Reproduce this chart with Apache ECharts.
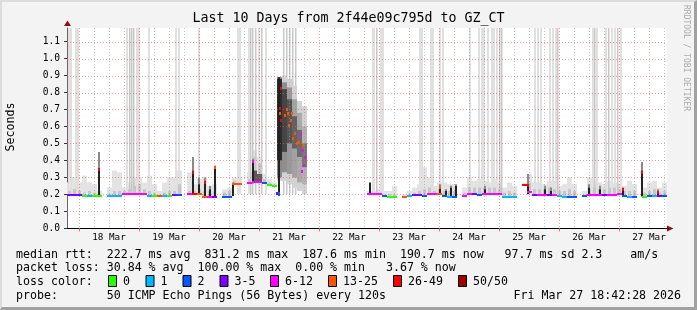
<!DOCTYPE html>
<html><head><meta charset="utf-8">
<script src="https://cdn.jsdelivr.net/npm/echarts@6/dist/echarts.min.js"></script>
<style>
html,body{margin:0;padding:0;background:#f3f3f3;overflow:hidden;}
#c{position:absolute;left:0;top:0;width:697px;height:310px;}
#frame{position:absolute;left:0;top:0;width:697px;height:310px;box-sizing:border-box;pointer-events:none;
 border-top:2px solid #dcdcdc;border-left:2px solid #dcdcdc;border-right:3px solid #a1a1a1;border-bottom:3px solid #a1a1a1;}
</style></head><body>
<div id="c"></div><div id="frame"></div>
<script>
// ---------- time axis (hours since Mar 17 00:00) ----------
const startHour = 19.2;
const endHour = 259.2;
const slotHours = 2;
const yMax = 1.18;
const dayLabels = ['18 Mar','19 Mar','20 Mar','21 Mar','22 Mar','23 Mar','24 Mar','25 Mar','26 Mar','27 Mar'];
const dayNoonHours = [36,60,84,108,132,156,180,204,228,252];
const midnightHours = [24,48,72,96,120,144,168,192,216,240];
const yTickValues = [0,0.1,0.2,0.3,0.4,0.5,0.6,0.7,0.8,0.9,1.0,1.1];

// ---------- loss legend ----------
const lossNames = ['0','1','2','3-5','6-12','13-25','26-49','50/50'];
const lossColors = ['#26ff00','#00b8ff','#0059ff','#7e00ff','#ff00ff','#ff5500','#ff0000','#a10000'];

// ---------- per 2-hour slot (120 slots) ----------
const median = [
 0.198,0.198,0.198,0.188,0.188,0.188,0.188,null,0.188,0.188,
 0.188,0.2,0.2,0.2,0.2,0.2,0.19,0.188,0.188,0.188,
 0.188,0.197,0.195,null,0.2,0.2,0.2,0.186,0.186,0.186,
 null,0.187,0.187,0.26,0.26,null,0.265,0.275,0.27,0.265,
 0.258,0.25,null,null,null,null,null,null,null,null,
 null,null,null,null,null,null,null,null,null,null,
 0.2,0.2,0.2,0.192,0.187,0.187,null,0.187,0.19,0.198,
 0.196,0.19,0.2,0.2,0.205,0.192,0.187,0.187,null,0.19,
 0.2,0.2,0.198,0.2,0.2,0.2,0.2,0.187,0.187,0.187,
 null,0.255,0.215,0.195,0.195,0.195,0.195,0.197,0.19,0.187,
 0.187,0.187,null,0.19,0.195,0.197,0.197,0.195,0.197,0.197,
 0.2,0.19,0.187,0.187,null,0.187,0.19,0.19,0.19,0.19
];
const lossClass = [
 3,3,3,0,1,0,0,0,1,1,
 1,4,4,4,4,4,1,0,5,1,
 0,3,2,0,4,6,5,5,4,3,
 0,2,2,5,5,0,4,4,4,2,
 0,0,0,0,0,0,0,0,0,0,
 0,0,0,0,0,0,0,0,0,0,
 4,4,4,2,0,0,0,5,1,3,
 3,2,4,4,5,2,1,2,0,4,
 4,3,2,4,4,4,4,1,1,1,
 0,6,4,3,4,4,3,4,1,1,
 2,2,0,2,4,4,4,3,4,4,
 4,2,1,2,0,0,2,1,3,2
];
const smokeTop = [
 0.27,0.30,0.27,0.31,0.27,0.26,0.22,null,0.24,0.34,
 0.33,0.24,0.27,0.30,0.30,0.27,0.31,0.26,0.22,0.27,
 0.30,0.30,0.34,null,0.33,0.26,0.29,0.30,0.25,0.26,
 null,0.23,0.24,0.30,0.29,null,0.33,0.46,0.42,0.32,
 0.29,0.27,null,null,null,null,null,null,null,null,
 null,null,null,null,null,null,null,null,null,null,
 0.22,0.22,0.23,0.22,0.22,0.25,null,0.20,0.22,0.24,
 0.26,0.36,0.30,0.25,0.27,0.27,0.26,0.26,null,0.24,
 0.30,0.28,0.29,0.28,0.27,0.29,0.27,0.24,0.27,0.25,
 null,0.27,0.32,0.27,0.27,0.26,0.28,0.28,0.25,0.26,
 0.30,0.26,null,0.22,0.30,0.27,0.27,0.26,0.28,0.27,
 0.26,0.25,0.28,0.26,null,0.24,0.27,0.28,0.24,0.27
];
const smokeMidTop = [
 0.22,0.23,0.22,0.21,0.22,0.21,null,null,0.20,0.22,
 0.22,0.22,0.23,0.25,0.26,0.23,0.22,0.21,null,0.21,
 0.22,0.22,0.26,null,0.22,0.22,0.23,0.22,0.22,0.22,
 null,0.21,0.22,0.28,0.27,null,0.29,0.42,0.38,0.29,
 0.27,null,null,null,null,null,null,null,null,null,
 null,null,null,null,null,null,null,null,null,null,
 null,null,null,null,0.20,0.20,null,null,0.20,0.21,
 0.22,0.23,0.24,0.22,0.23,0.22,0.22,0.22,null,0.21,
 0.24,0.24,0.24,0.24,0.24,0.24,0.23,0.21,0.22,0.21,
 null,null,0.27,0.23,0.23,0.23,0.24,0.23,0.22,0.22,
 0.23,0.22,null,null,0.23,0.24,0.23,0.23,0.24,0.24,
 0.23,0.22,0.22,0.22,null,0.21,0.22,0.23,0.21,0.22
];

// ---------- heavy smoke (20/21 Mar) ----------
const blobHour   = [93.2,95.2,103.2,105.2,107.2,109.2,111.2,113.2];
const blobLightLo= [null,null,0.28,0.28,0.26,0.24,0.22,0.20];
const blobLightHi= [null,null,0.89,0.90,0.88,0.84,0.75,0.72];
const blobMidLo  = [null,null,0.30,0.33,0.32,0.30,0.27,0.26];
const blobMidHi  = [null,null,0.89,0.86,0.83,0.76,0.68,0.60];
const blobDarkLo = [0.275,0.27,0.40,0.45,0.50,0.47,0.42,0.36];
const blobDarkHi = [0.34,0.32,0.88,0.82,0.76,0.66,0.58,0.50];

// ---------- tall outlier streaks (hour, shade 0 light / 1 mid) ----------
const tallHour  = [20.0,20.8,22.8,23.6,43.2,44.4,45.2,46.0,47.2,48.0,52.0,62.8,64.0,72.0,87.6,88.4,
  92.0,92.8,93.6,94.8,96.0,97.2,98.8,106.0,107.2,108.4,109.6,110.8,141.4,142.0,142.9,144.8,145.6,
  160.4,161.2,164.6,165.4,168.4,169.6,180.2,183.8,185.2,186.0,187.6,189.0,190.0,191.0,192.4,193.2,
  206.4,207.6,208.6,212.4,213.6,214.6,215.6,229.4,230.4,231.2,234.8,236.0,237.2,238.4,239.6,240.8];
const tallShade = [0,0,0,0,0,1,1,1,0,0,0,0,0,0,0,0,
  0,1,1,1,0,1,0,1,1,1,1,1,0,0,1,0,0,
  0,0,0,0,0,0,0,0,0,0,0,0,0,0,1,1,
  0,0,0,0,0,0,1,0,1,0,0,1,0,0,1,0];
const tallBase = 0.2;

// ---------- narrow dark spikes ----------
const spikeHour  = [31.8,69.7,71.8,74.4,76.4,78.2,85.6,93.6,103.8,140.4,168.4,170.8,172.8,174.8,186.4,
  203.6,210.4,212.8,228.0,232.4,241.4,249.0,255.4];
const spikeLow   = [0.19,0.2,0.2,0.186,0.186,0.186,0.19,0.265,0.21,0.2,0.2,0.19,0.19,0.19,0.2,
  0.2,0.195,0.195,0.195,0.197,0.19,0.187,0.19];
const spikeHigh  = [0.355,0.34,0.26,0.28,0.23,0.365,0.26,0.40,0.89,0.27,0.25,0.22,0.24,0.25,0.23,
  0.26,0.23,0.22,0.24,0.23,0.235,0.34,0.22];
const spikeGray  = [0.45,0.42,0.30,0.30,0.25,0.37,0.27,0.41,0.89,0.27,0.26,0.23,0.25,0.26,0.25,
  0.32,0.25,0.24,0.26,0.25,0.24,0.39,0.23];
const spikeDot   = [6,6,-1,6,-1,5,-1,4,-1,-1,5,-1,-1,-1,-1,
  6,-1,-1,-1,-1,6,6,6];

// ---------- scattered median points in heavy smoke ----------
const dotHour  = [103.2,103.8,104.3,104.7,104.4,104.6,106.4,107.1,107.7,108.1,108.8,109.3,109.7,110.4,111.1,112.1,112.8,113.5,113.7,114.0,113.3,114.4];
const dotValue = [0.21,0.205,0.71,0.827,0.682,0.64,0.67,0.70,0.68,0.61,0.64,0.682,0.53,0.56,0.50,0.51,0.553,0.49,0.46,0.375,0.335,0.42];
const dotClass = [3,2,6,6,5,6,5,5,5,5,5,5,5,5,5,5,4,5,4,4,4,4];

// ---------- legend text ----------
const statLine1 = 'median rtt:  222.7 ms avg  831.2 ms max  187.6 ms min  190.7 ms now   97.7 ms sd 2.3    am/s';
const statLine2 = 'packet loss: 30.84 % avg  100.00 % max  0.00 % min   3.67 % now';
const probeLine = 'probe:       50 ICMP Echo Pings (56 Bytes) every 120s';
const dateText  = 'Fri Mar 27 18:42:28 2026';
const titleText = 'Last 10 Days from 2f44e09c795d to GZ_CT';

// ================= build =================
const MONO = '"DejaVu Sans Mono", monospace';
const chart = echarts.init(document.getElementById('c'), null, {renderer:'canvas', width:697, height:310});

function clipR(params, r) {
  const cs = params.coordSys;
  return echarts.graphic.clipRectByRect(r, {x:cs.x, y:cs.y, width:cs.width, height:cs.height});
}
function band(params, api, t0, t1, lo, hi, fill) {
  if (lo == null || hi == null || !(hi > lo)) return null;
  const a = api.coord([t0, hi]), b = api.coord([t1, lo]);
  const s = clipR(params, {x:a[0], y:a[1], width:b[0]-a[0], height:b[1]-a[1]});
  return s ? {type:'rect', shape:s, style:{fill}} : null;
}

const slotData = [];
for (let i = 0; i < median.length; i++) {
  if (median[i] == null) continue;
  slotData.push([startHour + i*slotHours, median[i], lossClass[i],
    smokeTop[i] == null ? median[i] : smokeTop[i],
    smokeMidTop[i] == null ? median[i] : smokeMidTop[i]]);
}
const blobData = blobHour.map((h,i)=>[h, blobLightLo[i], blobLightHi[i], blobMidLo[i], blobMidHi[i], blobDarkLo[i], blobDarkHi[i]]);
const tallData = tallHour.map((h,i)=>[h, tallShade[i]]);
const spikeData = spikeHour.map((h,i)=>[h, spikeLow[i], spikeHigh[i], spikeGray[i], spikeDot[i]]);
const dotData = dotHour.map((h,i)=>[h, dotValue[i], dotClass[i]]);

const vGrid = [];
for (let h = 24; h < endHour; h += 6) vGrid.push([h, (h % 24 === 0) ? 1 : 0]);
const hGrid = yTickValues.filter(v => v > 0).map(v => [startHour, v]);
const blobDarkColors = ['#5a5a5a','#5a5a5a','#2c2c2c','#454545','#555555','#626262','#6c6c6c','#777777'];
const blobMidColors  = ['#999','#999','#8a8a8a','#8f8f8f','#999999','#a2a2a2','#aaaaaa','#b2b2b2'];

const series = [
  { // light smoke
    type:'custom', z:2, silent:true, data: slotData, encode:{x:0,y:1},
    renderItem:(params, api)=>{
      const t = api.value(0);
      const el = band(params, api, t, t+slotHours, api.value(1), api.value(3), '#e3e3e3');
      return el || {type:'group', children:[]};
    }
  },
  { // tall streaks
    type:'custom', z:2, silent:true, data: tallData, encode:{x:0},
    renderItem:(params, api)=>{
      const h = api.value(0);
      const a = api.coord([h, yMax]), b = api.coord([h, tallBase]);
      const w = api.value(1) ? 1.5 : 2;
      return {type:'rect', shape:{x:Math.round(a[0]-w/2), y:a[1], width:w, height:b[1]-a[1]},
        style:{fill: api.value(1) ? '#c8c8c8' : '#e0e0e0'}};
    }
  },
  { // mid smoke
    type:'custom', z:2, silent:true, data: slotData, encode:{x:0,y:1},
    renderItem:(params, api)=>{
      const t = api.value(0);
      const el = band(params, api, t+0.4, t+slotHours-0.4, api.value(1), api.value(4), '#c6c6c6');
      return el || {type:'group', children:[]};
    }
  },
  { // heavy smoke
    type:'custom', z:2, silent:true, data: blobData, encode:{x:0},
    renderItem:(params, api)=>{
      const t = api.value(0), ch = [], d = blobData[params.dataIndex], k = params.dataIndex;
      let e;
      if ((e = band(params, api, t, t+slotHours, d[1], d[2], '#d2d2d2'))) ch.push(e);
      if ((e = band(params, api, t, t+slotHours, d[3], d[4], blobMidColors[k]))) ch.push(e);
      if ((e = band(params, api, t, t+slotHours, d[5], d[6], blobDarkColors[k]))) ch.push(e);
      return {type:'group', children:ch};
    }
  },
  { // vertical grid
    type:'custom', z:3, silent:true, data: vGrid, encode:{x:0},
    renderItem:(params, api)=>{
      const h = api.value(0);
      const a = api.coord([h, yMax]), b = api.coord([h, 0]);
      const x = Math.round(a[0]) + 0.5;
      return {type:'line', shape:{x1:x, y1:a[1], x2:x, y2:b[1]},
        style:{stroke: api.value(1) ? 'rgba(230,90,90,0.6)' : 'rgba(150,150,150,0.55)', lineWidth:1, lineDash:[1,2]}};
    }
  },
  { // horizontal grid
    type:'custom', z:3, silent:true, data: hGrid, encode:{x:0,y:1},
    renderItem:(params, api)=>{
      const v = api.value(1);
      const a = api.coord([startHour, v]), b = api.coord([endHour, v]);
      const y = Math.round(a[1]) + 0.5;
      return {type:'line', shape:{x1:a[0], y1:y, x2:b[0], y2:y},
        style:{stroke:'rgba(230,90,90,0.6)', lineWidth:1, lineDash:[1,2]}};
    }
  },
  { // dark spikes
    type:'custom', z:4, silent:true, data: spikeData, encode:{x:0,y:1},
    renderItem:(params, api)=>{
      const h = api.value(0), lo = api.value(1), hi = api.value(2), gt = api.value(3), dc = api.value(4);
      const pLo = api.coord([h, lo]), pHi = api.coord([h, hi]), pG = api.coord([h, gt]);
      const x = Math.round(pLo[0]) - 1;
      const ch = [];
      if (gt > hi) ch.push({type:'rect', shape:{x, y:pG[1], width:2, height:pHi[1]-pG[1]}, style:{fill:'#8a8a8a'}});
      ch.push({type:'rect', shape:{x, y:pHi[1], width:2, height:pLo[1]-pHi[1]}, style:{fill:'#222'}});
      if (dc >= 0) ch.push({type:'rect', shape:{x, y:Math.round(pHi[1]), width:2, height:3}, style:{fill:lossColors[dc]}});
      return {type:'group', children:ch};
    }
  },
  { // median line coloured by loss
    type:'custom', z:5, silent:true, data: slotData, encode:{x:0,y:1},
    renderItem:(params, api)=>{
      const t = api.value(0), m = api.value(1);
      const a = api.coord([t, m]), b = api.coord([t+slotHours, m]);
      return {type:'rect', shape:{x:a[0], y:Math.round(a[1])-1, width:b[0]-a[0], height:2},
        style:{fill: lossColors[api.value(2)]}};
    }
  },
  { // scattered median dots
    type:'custom', z:6, silent:true, data: dotData, encode:{x:0,y:1},
    renderItem:(params, api)=>{
      const p = api.coord([api.value(0), api.value(1)]);
      return {type:'rect', shape:{x:Math.round(p[0])-1, y:Math.round(p[1])-1, width:2, height:3},
        style:{fill: lossColors[api.value(2)]}};
    }
  }
];

// legend boxes
const boxX = [108, 145.5, 182.5, 219.5, 270, 328, 393, 458];
const graphics = [
  {type:'text', x:348.5, y:18.5, style:{text:titleText, font:'13.3px '+MONO, fill:'#000', align:'center', verticalAlign:'middle'}},
  {type:'text', x:10.5, y:127, rotation:Math.PI/2, style:{text:'Seconds', font:'11.6px '+MONO, fill:'#000', align:'center', verticalAlign:'middle'}},
  {type:'text', x:686, y:58, rotation:-Math.PI/2, style:{text:'RRDTOOL / TOBI OETIKER', font:'8px '+MONO, fill:'#aaa', align:'center', verticalAlign:'middle'}},
  {type:'text', x:16, y:254.5, style:{text:statLine1, font:'11.6px '+MONO, fill:'#000', verticalAlign:'middle'}},
  {type:'text', x:16, y:268.4, style:{text:statLine2, font:'11.6px '+MONO, fill:'#000', verticalAlign:'middle'}},
  {type:'text', x:16, y:282.3, style:{text:'loss color:', font:'11.6px '+MONO, fill:'#000', verticalAlign:'middle'}},
  {type:'text', x:16, y:296.2, style:{text:probeLine, font:'11.6px '+MONO, fill:'#000', verticalAlign:'middle'}},
  {type:'text', x:681, y:296.2, style:{text:dateText, font:'11.6px '+MONO, fill:'#000', align:'right', verticalAlign:'middle'}},
  {type:'polygon', shape:{points:[[667,225.5],[673.5,228.5],[667,231.5]]}, style:{fill:'#8b1010'}},
  {type:'polygon', shape:{points:[[64,26],[67.5,20.5],[71,26]]}, style:{fill:'#8b1010'}}
];
lossNames.forEach((n,i)=>{
  graphics.push({type:'rect', shape:{x:boxX[i]+0.5, y:275.5, width:8, height:11}, style:{fill:lossColors[i], stroke:'#000', lineWidth:1}});
  graphics.push({type:'text', x:boxX[i]+15, y:282.3, style:{text:n, font:'11.6px '+MONO, fill:'#000', verticalAlign:'middle'}});
});

chart.setOption({
  animation:false,
  backgroundColor:'#f3f3f3',
  grid:{left:67, top:28, width:600, height:200.3, show:true, backgroundColor:'#ffffff', borderWidth:0},
  xAxis:{
    type:'value', min:startHour, max:endHour,
    axisLine:{show:true, onZero:false, lineStyle:{color:'#000', width:1}},
    axisTick:{show:true, customValues:midnightHours, length:3, lineStyle:{color:'#e06a6a'}},
    axisLabel:{show:true, customValues:dayNoonHours, formatter:(v)=>dayLabels[dayNoonHours.indexOf(v)] || '',
      fontFamily:MONO, fontSize:9.3, color:'#000', margin:5},
    splitLine:{show:false}
  },
  yAxis:{
    type:'value', min:0, max:yMax,
    axisLine:{show:true, lineStyle:{color:'#666', width:1}},
    axisTick:{show:true, customValues:yTickValues, length:3, lineStyle:{color:'#333'}},
    axisLabel:{show:true, customValues:yTickValues, formatter:(v)=>v.toFixed(1),
      fontFamily:MONO, fontSize:9.6, color:'#000', margin:7},
    splitLine:{show:false}
  },
  graphic:graphics,
  series:series
});
</script>
</body></html>
